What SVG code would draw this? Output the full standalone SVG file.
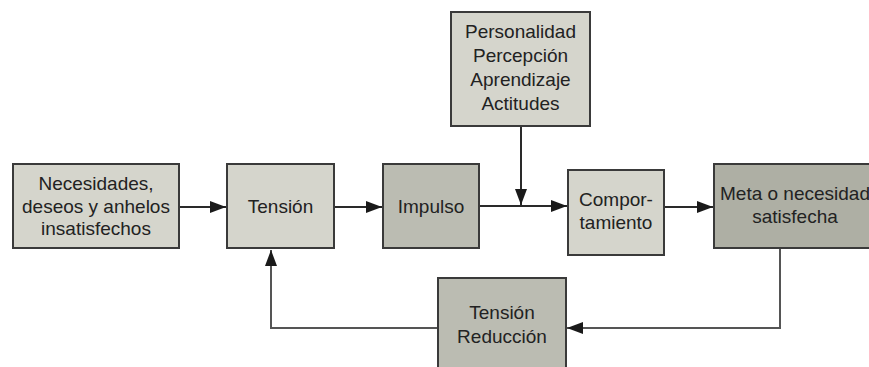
<svg xmlns="http://www.w3.org/2000/svg" width="869" height="367" viewBox="0 0 869 367">
<defs>
<marker id="ah" viewBox="0 0 16 12" refX="16" refY="6" markerWidth="16" markerHeight="12" markerUnits="userSpaceOnUse" orient="auto">
<path d="M0,0 L16,6 L0,12 Z" fill="#1a1a1a"/>
</marker>
</defs>
<style>
.light{fill:#d5d5cc;stroke:#3a3a3a;stroke-width:2}
.mid{fill:#bbbcb2;stroke:#3a3a3a;stroke-width:2}
.dark{fill:#aeafa4;stroke:#3a3a3a;stroke-width:2}
text{font-family:"Liberation Sans",Arial,Helvetica,sans-serif;font-size:19px;fill:#222;text-anchor:middle}
.c{fill:none;stroke:#2a2a2a;stroke-width:2}
.f{fill:none;stroke:#555;stroke-width:2}
</style>
<rect width="869" height="367" fill="#fff"/>
<g id="connectors">
<line class="c" x1="180" y1="207" x2="226" y2="207" marker-end="url(#ah)"/>
<line class="c" x1="335" y1="207" x2="382" y2="207" marker-end="url(#ah)"/>
<line class="c" x1="480" y1="206" x2="567" y2="206" marker-end="url(#ah)"/>
<line class="c" x1="521" y1="127" x2="521" y2="205" marker-end="url(#ah)"/>
<line class="c" x1="665" y1="207" x2="713" y2="207" marker-end="url(#ah)"/>
<polyline class="f" points="780,249 780,328 567,328" marker-end="url(#ah)"/>
<polyline class="f" points="437,328 271,328 271,250" marker-end="url(#ah)"/>
</g>
<g id="necesidades">
<rect class="light" x="13" y="164" width="166" height="84"/>
<text x="96" y="190">Necesidades,</text>
<text x="96" y="213">deseos y anhelos</text>
<text x="96" y="235">insatisfechos</text>
</g>
<g id="tension">
<rect class="light" x="227" y="164" width="107" height="84"/>
<text x="280.5" y="213">Tensión</text>
</g>
<g id="impulso">
<rect class="mid" x="383" y="164" width="96" height="84"/>
<text x="431" y="213">Impulso</text>
</g>
<g id="personalidad">
<rect class="light" x="451" y="12" width="139" height="114"/>
<text x="520.5" y="38">Personalidad</text>
<text x="520.5" y="62">Percepción</text>
<text x="520.5" y="86">Aprendizaje</text>
<text x="520.5" y="110">Actitudes</text>
</g>
<g id="comportamiento">
<rect class="light" x="568" y="170" width="96" height="85"/>
<text x="616" y="206">Compor-</text>
<text x="616" y="229">tamiento</text>
</g>
<g id="meta">
<rect class="dark" x="714" y="164" width="162" height="84"/>
<text x="795" y="200">Meta o necesidad</text>
<text x="795" y="223">satisfecha</text>
</g>
<g id="reduccion">
<rect class="mid" x="438" y="278" width="128" height="100"/>
<text x="502" y="319">Tensión</text>
<text x="502" y="343">Reducción</text>
</g>
</svg>
